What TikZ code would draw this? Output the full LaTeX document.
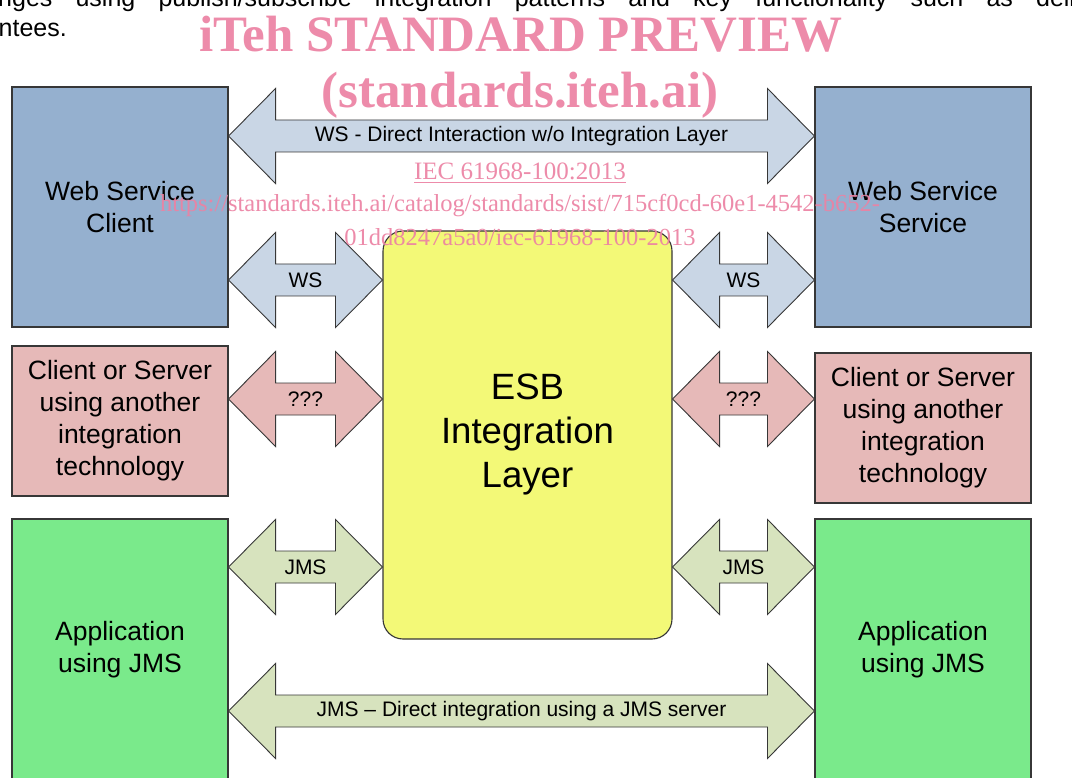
\documentclass[tikz,border=0pt]{standalone}
\usepackage{fontspec}
\setmainfont{Liberation Sans}
\newfontfamily\wmfont{Liberation Serif}
\usetikzlibrary{calc}
\definecolor{wsblue}{RGB}{149,176,207}
\definecolor{wsarrow}{RGB}{201,214,229}
\definecolor{otherbox}{RGB}{230,185,184}
\definecolor{appgreen}{RGB}{122,234,139}
\definecolor{jmsarrow}{RGB}{215,227,190}
\definecolor{esbyellow}{RGB}{243,249,119}
\definecolor{boxline}{RGB}{55,55,55}
\definecolor{wmpink}{RGB}{236,130,163}
\tikzset{
  box/.style={draw=boxline, line width=1.1pt, minimum width=216pt, inner sep=0pt, align=center,
    font=\fontsize{26.5}{32}\selectfont},
  esbbox/.style={draw=boxline, line width=1.1pt, fill=esbyellow, rounded corners=20pt,
    minimum width=289pt, minimum height=408pt, inner sep=0pt, align=center,
    font=\fontsize{36.6}{44}\selectfont},
  arr/.style={draw=boxline, line width=0.9pt, line join=miter},
  lbl/.style={inner sep=0pt, font=\fontsize{21}{21}\selectfont},
  wm/.style={text=wmpink, text opacity=0.92, inner sep=0pt, anchor=base},
  bodytext/.style={inner sep=0pt, font=\fontsize{25}{25}\selectfont}
}
\newcommand\dblarrow[5]{%
  \coordinate (#1L) at #2;
  \coordinate (#1R) at #3;
  \draw[arr, fill=#4] (#1L) -- ($(#1L)+(47,-47.5)$) -- ($(#1L)+(47,-16)$)
    -- ($(#1R)+(-47,-16)$) -- ($(#1R)+(-47,-47.5)$) -- (#1R)
    -- ($(#1R)+(-47,47.5)$) -- ($(#1R)+(-47,16)$)
    -- ($(#1L)+(47,16)$) -- ($(#1L)+(47,47.5)$) -- cycle;
  \node[lbl] (#1lab) at ($(#1L)!0.5!(#1R)$) {#5};}
\begin{document}
\begin{tikzpicture}[x=1pt,y=-1pt]
\useasboundingbox (0,0) rectangle (1072,778);
\clip (0,0) rectangle (1072,778);
\fill[white] (0,0) rectangle (1072,778);

% body text (cut off)
\node[bodytext, anchor=base west] (body1) at (-2,7)
  {\makebox[1077pt][s]{nges using publish/subscribe integration patterns and key functionality such as deli}};
\node[bodytext, anchor=base east] (body2) at (67,37) {ntees.};

% boxes
\node[box, fill=wsblue, minimum height=240pt] (wsc) at (120,207) {Web Service\\Client};
\node[box, fill=wsblue, minimum height=240pt] (wss) at (923,207) {Web Service\\Service};
\node[box, fill=otherbox, minimum height=150pt] (cosl) at (120,421) {Client or Server\\using another\\integration\\technology};
\node[box, fill=otherbox, minimum height=150pt] (cosr) at (923,428) {Client or Server\\using another\\integration\\technology};
\node[box, fill=appgreen, minimum height=261pt] (appl) at (120,649.5) {Application\\using JMS};
\node[box, fill=appgreen, minimum height=261pt] (appr) at (923,649.5) {Application\\using JMS};
\node[esbbox] (esb) at (527.5,435) {ESB\\Integration\\Layer};

% arrows
\dblarrow{top}{(wsc.east |- 0,136)}{(wss.west |- 0,136)}{wsarrow}{WS - Direct Interaction w/o Integration Layer}
\dblarrow{wsl}{(wsc.east |- 0,280)}{(esb.west |- 0,280)}{wsarrow}{WS}
\dblarrow{wsr}{(esb.east |- 0,280)}{(wss.west |- 0,280)}{wsarrow}{WS}
\dblarrow{ql}{(cosl.east |- 0,399)}{(esb.west |- 0,399)}{otherbox}{???}
\dblarrow{qr}{(esb.east |- 0,399)}{(cosr.west |- 0,399)}{otherbox}{???}
\dblarrow{jl}{(appl.east |- 0,567)}{(esb.west |- 0,567)}{jmsarrow}{JMS}
\dblarrow{jr}{(esb.east |- 0,567)}{(appr.west |- 0,567)}{jmsarrow}{JMS}
\dblarrow{bot}{(appl.east |- 0,711)}{(appr.west |- 0,711)}{jmsarrow}{JMS -- Direct integration using a JMS server}

% watermark
\node[wm, font=\wmfont\bfseries\fontsize{51}{51}\selectfont] (wm1) at (521,52) {iTeh STANDARD PREVIEW};
\node[wm, font=\wmfont\bfseries\fontsize{51}{51}\selectfont] (wm2) at (520,108) {(standards.iteh.ai)};
\node[wm, font=\wmfont\fontsize{25}{25}\selectfont] (wm3) at (520,180) {\underline{IEC 61968-100:2013}};
\node[wm, font=\wmfont\fontsize{24.5}{24.5}\selectfont] (wm4) at (520,212) {https://standards.iteh.ai/catalog/standards/sist/715cf0cd-60e1-4542-b652-};
\node[wm, font=\wmfont\fontsize{24.5}{24.5}\selectfont] (wm5) at (520,246) {01dd8247a5a0/iec-61968-100-2013};
\end{tikzpicture}
\end{document}
